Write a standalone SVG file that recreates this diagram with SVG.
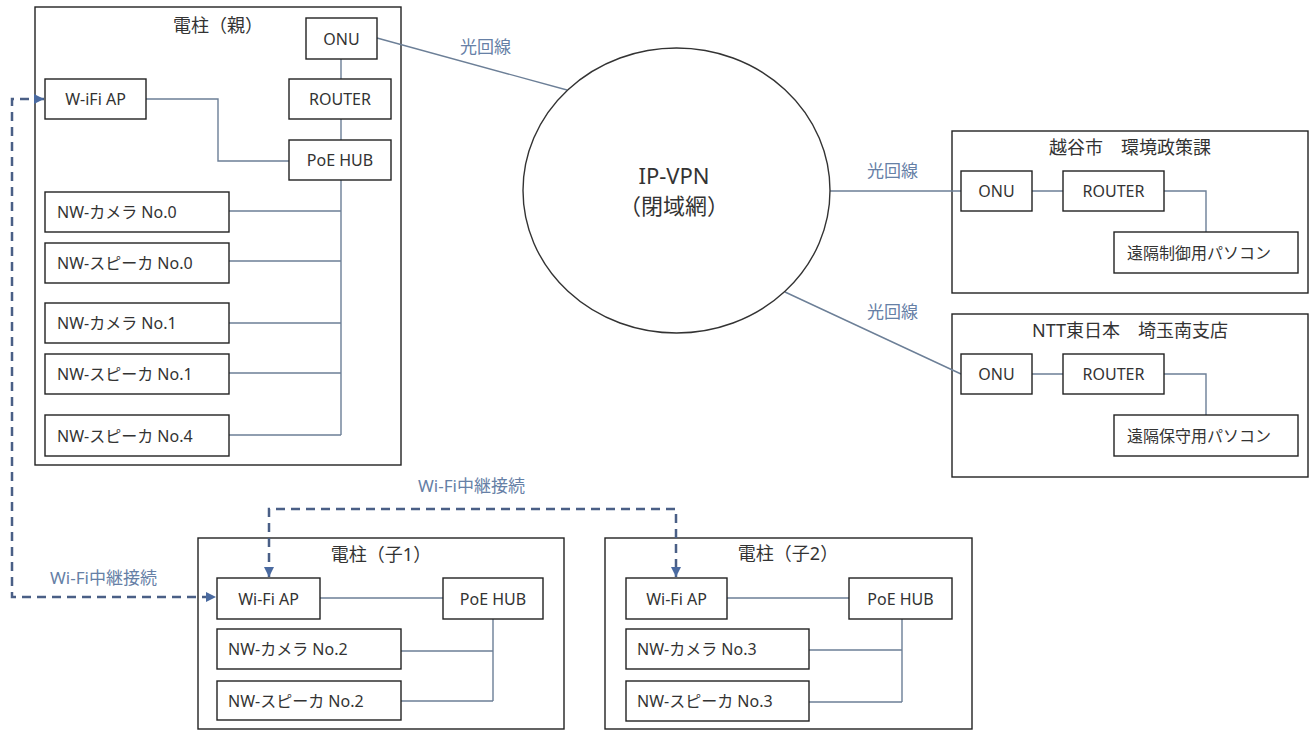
<svg xmlns="http://www.w3.org/2000/svg" width="1309" height="730" viewBox="0 0 1309 730">
<style>
.frame{fill:#fff;stroke:#222;stroke-width:1.4}
.box{fill:#fff;stroke:#222;stroke-width:1.4}
.t{font-family:"Noto Sans","Noto Sans CJK JP",sans-serif;font-size:16px;fill:#333;dominant-baseline:central}
.c{text-anchor:middle}
.title{font-family:"Noto Sans","Noto Sans CJK JP",sans-serif;font-size:18px;fill:#333;text-anchor:middle;dominant-baseline:central}
.lbl{font-family:"Noto Sans","Noto Sans CJK JP",sans-serif;font-size:17px;fill:#6680a6;dominant-baseline:central}
.line{fill:none;stroke:#6c7f97;stroke-width:1.4}
.dash{fill:none;stroke:#4a5f86;stroke-width:2.5;stroke-dasharray:9 6}
.big{font-family:"Noto Sans","Noto Sans CJK JP",sans-serif;font-size:22px;fill:#333;text-anchor:middle;dominant-baseline:central}
</style>
<defs>
<marker id="arr" viewBox="0 0 10 10" refX="10" refY="5" markerWidth="4" markerHeight="4" orient="auto-start-reverse" markerUnits="strokeWidth">
<path d="M0,0 L10,5 L0,10 z" fill="#4a6aa0"/>
</marker>
</defs>
<rect width="1309" height="730" fill="#fff"/>

<g id="pole-parent">
<rect class="frame" x="35" y="7" width="366" height="458"/>
<text class="title" x="218" y="25">電柱（親）</text>
</g>
<g id="pole-child1">
<rect class="frame" x="198" y="538" width="366" height="191"/>
<text class="title" x="381" y="554">電柱（子1）</text>
</g>
<g id="pole-child2">
<rect class="frame" x="605" y="538" width="367" height="191"/>
<text class="title" x="788" y="553">電柱（子2）</text>
</g>
<g id="site-koshigaya">
<rect class="frame" x="952" y="131" width="356" height="162"/>
<text class="title" x="1130" y="147">越谷市　環境政策課</text>
</g>
<g id="site-ntt">
<rect class="frame" x="952" y="314" width="356" height="163"/>
<text class="title" x="1130" y="330">NTT東日本　埼玉南支店</text>
</g>

<g id="connectors">
<path class="line" d="M377,38 L567,90"/>
<path class="line" d="M341,59 V79 M341,119 V140"/>
<path class="line" d="M146,99 H218 V161 H289"/>
<path class="line" d="M341,180 V435 M229,211 H341 M229,261 H341 M229,323 H341 M229,373 H341 M229,435 H341"/>
<path class="line" d="M830,191 H961 M1032,191 H1063 M1164,191 H1206 V232"/>
<path class="line" d="M785,292 L961,374 M1032,374 H1063 M1164,374 H1206 V415"/>
<path class="line" d="M320,598 H443 M493,619 V701 M401,651 H493 M401,701 H493"/>
<path class="line" d="M727,598 H849 M902,619 V702 M809,650 H902 M809,702 H902"/>
<path class="dash" d="M44,99 H12 V597 H216" marker-start="url(#arr)" marker-end="url(#arr)"/>
<path class="dash" d="M269,577 V509 H676 V577" marker-start="url(#arr)" marker-end="url(#arr)"/>
<text class="lbl" x="460" y="46">光回線</text>
<text class="lbl" x="867" y="170">光回線</text>
<text class="lbl" x="867" y="311">光回線</text>
<text class="lbl" x="418" y="485">Wi-Fi中継接続</text>
<text class="lbl" x="50" y="577">Wi-Fi中継接続</text>
</g>

<g id="ipvpn">
<ellipse cx="676.5" cy="190.5" rx="153.5" ry="142.5" fill="#fff" stroke="#333" stroke-width="1.4"/>
<text class="big" x="674" y="175">IP-VPN</text>
<text class="big" x="674" y="205">（閉域網）</text>
</g>

<g id="p-onu"><rect class="box" x="306" y="18" width="71" height="41"/><text class="t c" x="341.5" y="38.5">ONU</text></g>
<g id="p-router"><rect class="box" x="289" y="79" width="102" height="40"/><text class="t c" x="340" y="99">ROUTER</text></g>
<g id="p-poehub"><rect class="box" x="289" y="140" width="102" height="40"/><text class="t c" x="340" y="160">PoE HUB</text></g>
<g id="p-wifiap"><rect class="box" x="45" y="79" width="101" height="40"/><text class="t c" x="95.5" y="99">W-iFi AP</text></g>
<g id="p-cam0"><rect class="box" x="45" y="192" width="184" height="40"/><text class="t" x="57" y="212">NW-カメラ No.0</text></g>
<g id="p-spk0"><rect class="box" x="45" y="243" width="184" height="40"/><text class="t" x="57" y="263">NW-スピーカ No.0</text></g>
<g id="p-cam1"><rect class="box" x="45" y="303" width="184" height="40"/><text class="t" x="57" y="323">NW-カメラ No.1</text></g>
<g id="p-spk1"><rect class="box" x="45" y="354" width="184" height="40"/><text class="t" x="57" y="374">NW-スピーカ No.1</text></g>
<g id="p-spk4"><rect class="box" x="45" y="415" width="184" height="41"/><text class="t" x="57" y="435.5">NW-スピーカ No.4</text></g>

<g id="k-onu"><rect class="box" x="961" y="171" width="71" height="40"/><text class="t c" x="996.5" y="191">ONU</text></g>
<g id="k-router"><rect class="box" x="1063" y="171" width="101" height="40"/><text class="t c" x="1113.5" y="191">ROUTER</text></g>
<g id="k-pc"><rect class="box" x="1114" y="232" width="184" height="41"/><text class="t" x="1127" y="252.5">遠隔制御用パソコン</text></g>

<g id="n-onu"><rect class="box" x="961" y="354" width="71" height="40"/><text class="t c" x="996.5" y="374">ONU</text></g>
<g id="n-router"><rect class="box" x="1063" y="354" width="101" height="40"/><text class="t c" x="1113.5" y="374">ROUTER</text></g>
<g id="n-pc"><rect class="box" x="1114" y="415" width="184" height="41"/><text class="t" x="1127" y="435.5">遠隔保守用パソコン</text></g>

<g id="c1-wifiap"><rect class="box" x="217" y="578" width="103" height="41"/><text class="t c" x="268.5" y="598.5">Wi-Fi AP</text></g>
<g id="c1-poehub"><rect class="box" x="443" y="578" width="100" height="41"/><text class="t c" x="493" y="598.5">PoE HUB</text></g>
<g id="c1-cam2"><rect class="box" x="217" y="629" width="184" height="40"/><text class="t" x="228" y="649">NW-カメラ No.2</text></g>
<g id="c1-spk2"><rect class="box" x="217" y="681" width="184" height="39"/><text class="t" x="228" y="700.5">NW-スピーカ No.2</text></g>

<g id="c2-wifiap"><rect class="box" x="626" y="578" width="101" height="41"/><text class="t c" x="676.5" y="598.5">Wi-Fi AP</text></g>
<g id="c2-poehub"><rect class="box" x="849" y="578" width="103" height="41"/><text class="t c" x="900.5" y="598.5">PoE HUB</text></g>
<g id="c2-cam3"><rect class="box" x="626" y="629" width="183" height="40"/><text class="t" x="637" y="649">NW-カメラ No.3</text></g>
<g id="c2-spk3"><rect class="box" x="626" y="681" width="183" height="40"/><text class="t" x="637" y="701">NW-スピーカ No.3</text></g>
</svg>
